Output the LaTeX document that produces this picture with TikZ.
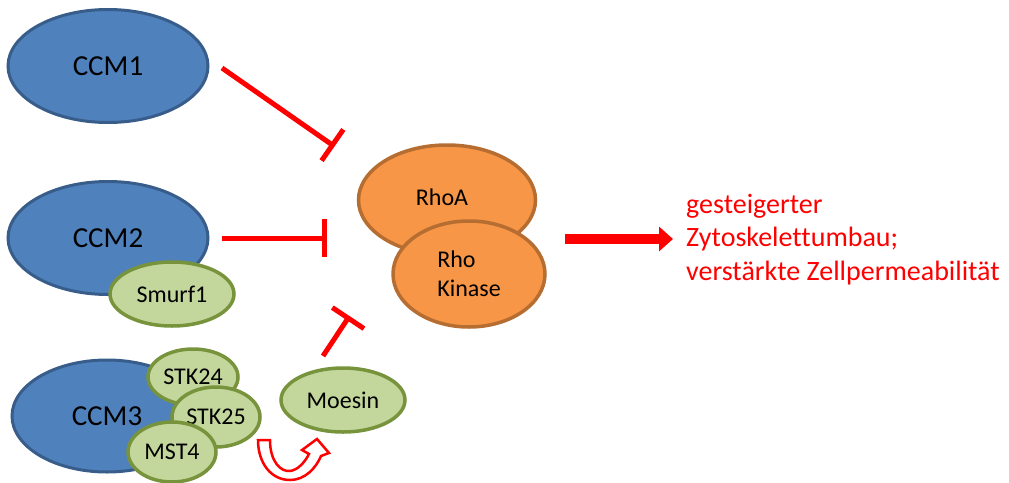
\documentclass[tikz,border=0pt]{standalone}
\usepackage{fontspec}
\setmainfont{Carlito}[Ligatures=NoCommon]
\usetikzlibrary{shapes.geometric,arrows.meta}
\definecolor{bfill}{HTML}{4F81BD}
\definecolor{bdraw}{HTML}{385D8A}
\definecolor{gfill}{HTML}{C3D69B}
\definecolor{gdraw}{HTML}{77933C}
\definecolor{ofill}{HTML}{F79646}
\definecolor{odraw}{HTML}{B66D31}
\definecolor{rred}{HTML}{FF0000}
\tikzset{
  blueell/.style={ellipse, fill=bfill, draw=bdraw, line width=3pt, inner sep=0pt, font=\fontsize{29}{33}\selectfont},
  greenell/.style={ellipse, fill=gfill, draw=gdraw, line width=3.5pt, inner sep=0pt, font=\fontsize{24}{28}\selectfont},
  orangeell/.style={ellipse, fill=ofill, draw=odraw, line width=3.5pt, inner sep=0pt, font=\fontsize{24}{29}\selectfont},
  inhib/.style={draw=rred, line width=5pt, -{Bar[width=38pt,line width=5pt]}},
}
\begin{document}
\begin{tikzpicture}[x=1pt,y=-1pt]
\useasboundingbox (0,0) rectangle (1009,482);
% blue proteins
\node[blueell, minimum width=200pt, minimum height=113pt] (ccm1) at (108,66) {CCM1};
\node[blueell, minimum width=200pt, minimum height=113pt] (ccm2) at (108,238) {CCM2};
\node[greenell, minimum width=124pt, minimum height=64pt] (smurf) at (172,294) {Smurf1};
\node[blueell, minimum width=190pt, minimum height=112pt] (ccm3) at (107,416) {CCM3};
\node[greenell, minimum width=90pt, minimum height=56pt] (stk24) at (193,377) {STK24};
\node[greenell, minimum width=88pt, minimum height=60pt] (stk25) at (216,417) {STK25};
\node[greenell, minimum width=88pt, minimum height=60pt] (mst4) at (172,452) {MST4};
\node[greenell, minimum width=124pt, minimum height=64pt] (moesin) at (343,400) {Moesin};
% Rho
\node[orangeell, minimum width=177pt, minimum height=110pt] (rhoa) at (447,200) {};
\node[font=\fontsize{24}{28}\selectfont] (rhoatext) at (442,197) {RhoA};
\node[orangeell, minimum width=152pt, minimum height=106pt, align=left] (rhok) at (469,274) {Rho\\Kinase};
% inhibition lines
\coordinate (c1a) at (222,68);
\coordinate (c1b) at (334.5,146.5);
\draw[inhib] (c1a) -- (c1b);
\coordinate (c2a) at (222,238);
\coordinate (c2b) at (327,238);
\draw[inhib] (c2a) -- (c2b);
\coordinate (m1) at (323,356);
\coordinate (m2) at (349.5,316);
\draw[inhib] (m1) -- (m2);
% big arrow
\coordinate (ra) at (565,239);
\coordinate (rb) at (673,239);
\draw[rred, line width=10pt, -{Triangle[length=14pt,width=24pt]}] (ra) -- (rb);
\node[anchor=base west, text=rred, align=left, font=\fontsize{28}{33.5}\selectfont, inner sep=0pt] (res) at (686,280) {gesteigerter\\Zytoskelettumbau;\\verstärkte Zellpermeabilität};
% hollow U arrow
\draw[rred, line width=2.5pt, fill=white, line join=miter]
  (258,440) -- (270,440) .. controls (270,462) and (281,472) .. (290,471)
  .. controls (298,470) and (305,462) .. (309,454) -- (302,450) -- (317,439)
  -- (329,453) -- (321,456) .. controls (316,468) and (305,480) .. (290,480)
  .. controls (271,480) and (258,463) .. (258,440) -- cycle;
\end{tikzpicture}
\end{document}
